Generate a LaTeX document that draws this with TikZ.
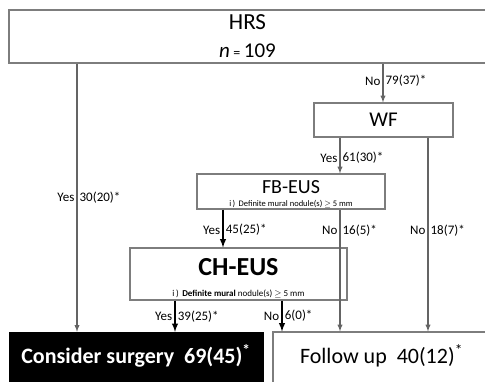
\documentclass[tikz,border=0pt]{standalone}
\usepackage{fontspec}
\setmainfont{Carlito}
\usepackage{tikz}
\usetikzlibrary{arrows}
\definecolor{linegray}{RGB}{100,100,100}
\definecolor{boxgray}{RGB}{125,125,125}

\begin{document}
\begin{tikzpicture}[x=1pt, y=-1pt,
				>=latex,   % arrow tips
				box/.style={draw=boxgray, line width=1.2pt, fill=white, inner sep=0pt, align=center},
				sublbl/.style={anchor=south, inner sep=1.5pt, font=\fontsize{8.5}{9}\selectfont},
				conn/.style={->, linegray, line width=1.3pt},
				darkconn/.style={->, black, line width=1.8pt},
				lbl/.style={text=black, font=\fontsize{13}{14}\selectfont, inner sep=2pt}]
				% Bildbereich
				\useasboundingbox (0,0) rectangle (485,381);
				% Kaesten
				\node[box, minimum width=477pt, minimum height=53pt, font=\fontsize{23}{28}\selectfont] (hrs) at (247.5,36.5)
					{HRS\\{\fontsize{21}{28}\selectfont\textit{n}\,{\fontsize{14}{14}\selectfont=}\,109}};
				\node[box, minimum width=139pt, minimum height=34pt, font=\fontsize{21}{22}\selectfont] (wf) at (383.5,120) {WF};
				\node[box, minimum width=188pt, minimum height=35pt, text depth=8pt, font=\fontsize{20}{22}\selectfont,
					label={[sublbl]south:i\,)\, Definite mural nodule(s) $\geq$ 5 mm}] (fbeus) at (291,191.5) {FB-EUS};
				\node[box, minimum width=217pt, minimum height=52pt, text depth=14pt, font=\fontsize{26}{28}\selectfont\bfseries,
					label={[sublbl, inner sep=3pt, font=\fontsize{9}{10}\selectfont]south:i\,)\, \textbf{Definite mural} nodule(s) $\geq$ 5 mm}] (cheus) at (238.5,274) {CH-EUS};
				\node[draw=black, fill=black, text=white, minimum width=254pt, minimum height=60pt, inner sep=0pt, text depth=16pt,
					font=\fontsize{22}{24}\selectfont\bfseries] (surg) at (136,362) {Consider surgery\ \ 69(45)\textsuperscript{*}};
				\node[box, minimum width=217pt, minimum height=60pt, text depth=16pt, font=\fontsize{22}{24}\selectfont] (fol) at (381.5,362)
					{Follow up\ \ 40(12)\textsuperscript{*}};
				% Spalten der Verbinder
				\coordinate (xa) at (77,0);
				\coordinate (xb) at (383,0);
				\coordinate (xc) at (340,0);
				\coordinate (xd) at (428,0);
				\coordinate (xe) at (223,0);
				\coordinate (xf) at (175,0);
				\coordinate (xg) at (282,0);
				% Verbinder zeichnen
				\draw[conn] (hrs.south -| xa) -- (surg.north -| xa)
					node[lbl, pos=0.5, left] {Yes} node[lbl, pos=0.5, right] {30(20)*};
				\draw[conn] (hrs.south -| xb) -- (wf.north -| xb)
					node[lbl, pos=0.45, left] {No} node[lbl, pos=0.45, right] {79(37)*};
				\draw[conn] (wf.south -| xc) -- (fbeus.north -| xc)
					node[lbl, pos=0.57, left] {Yes} node[lbl, pos=0.57, right] {61(30)*};
				\draw[conn] (wf.south -| xd) -- (fol.north -| xd)
					node[lbl, pos=0.48, left] {No} node[lbl, pos=0.48, right] {18(7)*};
				\draw[conn] (fbeus.south -| xc) -- (fol.north -| xc)
					node[lbl, pos=0.17, left] {No} node[lbl, pos=0.17, right] {16(5)*};
				\draw[darkconn] (fbeus.south -| xe) -- (cheus.north -| xe)
					node[lbl, pos=0.54, left] {Yes} node[lbl, pos=0.54, right] {45(25)*};
				\draw[darkconn] (cheus.south -| xf) -- (surg.north -| xf)
					node[lbl, pos=0.5, left] {Yes} node[lbl, pos=0.5, right] {39(25)*};
				\draw[darkconn] (cheus.south -| xg) -- (fol.north -| xg)
					node[lbl, pos=0.5, left] {No} node[lbl, pos=0.5, right] {6(0)*};
			\end{tikzpicture}
\end{document}
